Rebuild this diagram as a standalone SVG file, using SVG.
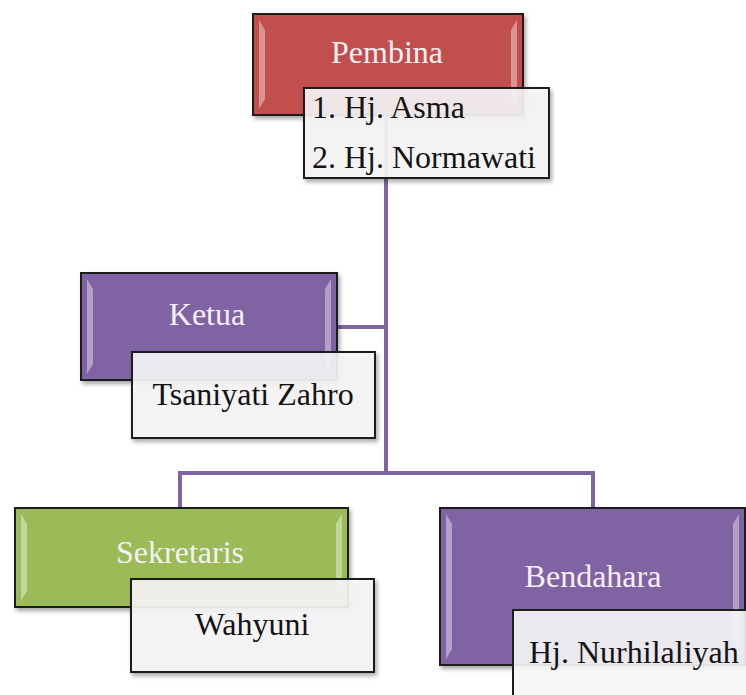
<svg xmlns="http://www.w3.org/2000/svg" width="746" height="695" viewBox="0 0 746 695">
<defs>
<style>
.hdr{stroke:#1e1e1e;stroke-width:2}
.red{fill:#c0504d}.pur{fill:#8064a2}.grn{fill:#9bbb59}
.sub{fill:#f6f6f6;fill-opacity:0.9;stroke:#1e1e1e;stroke-width:2}
.hl{fill:#ffffff;opacity:0.4}
.ht{font-size:32px;fill:#f4f0f4;text-anchor:middle}
.st{font-size:32px;fill:#141414}
.conn{fill:none;stroke:#8064a2;stroke-width:4}
</style>
<filter id="sh" x="-10%" y="-10%" width="130%" height="140%">
<feDropShadow dx="2" dy="3" stdDeviation="2" flood-color="#000" flood-opacity="0.35"/>
</filter>
</defs>
<rect width="746" height="695" fill="#ffffff"/>
<g id="connectors">
<path class="conn" d="M386 115 V473"/>
<path class="conn" d="M337 327 H386"/>
<path class="conn" d="M180 508 V473 H593 V508"/>
</g>
<g font-family="Liberation Serif, DejaVu Serif, serif">
<g id="pembina">
<rect class="hdr red" x="253" y="14" width="270" height="101" filter="url(#sh)"/>
<path class="hl" d="M259 20 L265 30 V99 L259 109 Z"/>
<path class="hl" d="M517 20 L511 30 V99 L517 109 Z"/>
<text class="ht" x="387" y="63">Pembina</text>
</g>
<g id="pembina-list">
<rect class="sub" x="304" y="88" width="245" height="90" filter="url(#sh)"/>
<text class="st" x="312" y="118">1. Hj. Asma</text>
<text class="st" x="312" y="168">2. Hj. Normawati</text>
</g>
<g id="ketua">
<rect class="hdr pur" x="81" y="273" width="256" height="107" filter="url(#sh)"/>
<path class="hl" d="M87 279 L93 289 V364 L87 374 Z"/>
<path class="hl" d="M331 279 L325 289 V364 L331 374 Z"/>
<text class="ht" x="207" y="325">Ketua</text>
</g>
<g id="ketua-name">
<rect class="sub" x="132" y="352" width="243" height="86" filter="url(#sh)"/>
<text class="st" x="253" y="405" text-anchor="middle">Tsaniyati Zahro</text>
</g>
<g id="sekretaris">
<rect class="hdr grn" x="15" y="508" width="333" height="99" filter="url(#sh)"/>
<path class="hl" d="M21 514 L27 524 V591 L21 601 Z"/>
<path class="hl" d="M342 514 L336 524 V591 L342 601 Z"/>
<text class="ht" x="180" y="563">Sekretaris</text>
</g>
<g id="sekretaris-name">
<rect class="sub" x="131" y="579" width="243" height="93" filter="url(#sh)"/>
<text class="st" x="252" y="635" text-anchor="middle">Wahyuni</text>
</g>
<g id="bendahara">
<rect class="hdr pur" x="440" y="508" width="305" height="157" filter="url(#sh)"/>
<path class="hl" d="M446 514 L452 524 V649 L446 659 Z"/>
<path class="hl" d="M739 514 L733 524 V649 L739 659 Z"/>
<text class="ht" x="593" y="587">Bendahara</text>
</g>
<g id="bendahara-name">
<rect class="sub" x="513" y="610" width="250" height="100"/>
<text class="st" x="529" y="663">Hj. Nurhilaliyah</text>
</g>
</g>
</svg>
